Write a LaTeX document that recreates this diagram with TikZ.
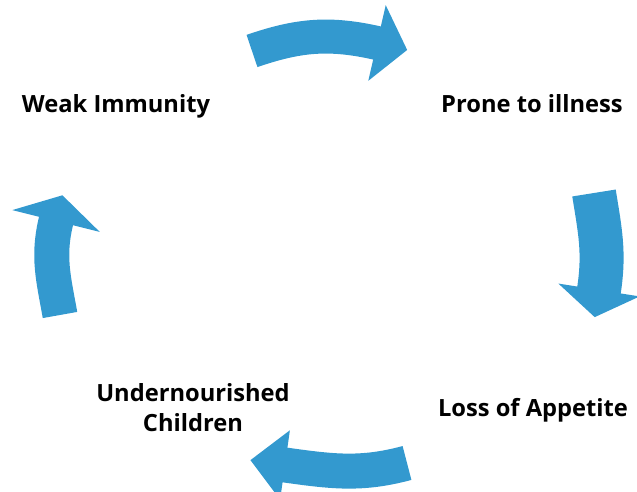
\documentclass[tikz,border=0pt]{standalone}
\usepackage{fontspec}
\setmainfont{Open Sans}
\usepackage{tikz}
\usetikzlibrary{arrows.meta, positioning}
\definecolor{cycblue}{RGB}{51,153,207}
\tikzset{
	lbl/.style={font=\bfseries\fontsize{23.7}{30}\selectfont, inner sep=0pt, align=center},
	cyc/.style={draw=cycblue, line width=#1},
}

\begin{document}
\begin{tikzpicture}[x=1pt, y=1pt]
						\useasboundingbox (0,0) rectangle (637,492);
						\node[lbl, anchor=base] (weak) at (116,379) {Weak Immunity};
						\node[lbl, anchor=base] (prone) at (532,379) {Prone to illness};
						\node[lbl, anchor=base] (appetite) at (533,75) {Loss of Appetite};
						\node[lbl] (children) at (193,84) {Undernourished\\Children};
						% tails and head bases of the cycle arrows
						\coordinate (w1) at (252,441);
						\coordinate (p1) at (377,449);
						\coordinate (p2) at (594,299);
						\coordinate (a1) at (599,202);
						\coordinate (a2) at (407,29);
						\coordinate (c1) at (285,27);
						\coordinate (c2) at (60,177);
						\coordinate (w2) at (56,271);
						\draw 
						(w1) edge[cyc=34pt, -{Triangle[width=76pt, length=31pt, sep=-31pt]}, out=19, in=167] (p1)
						(p2) edge[cyc=44pt, -{Triangle[width=81pt, length=27.5pt, sep=-27.5pt]}, out=-81, in=81] (a1)
						(a2) edge[cyc=35pt, -{Triangle[width=68pt, length=35pt, sep=-35pt]}, out=195, in=-8] (c1)
						(c2) edge[cyc=35pt, -{Triangle[width=89pt, length=26.5pt, sep=-26.5pt]}, out=100, in=256] (w2);
					\end{tikzpicture}
\end{document}
